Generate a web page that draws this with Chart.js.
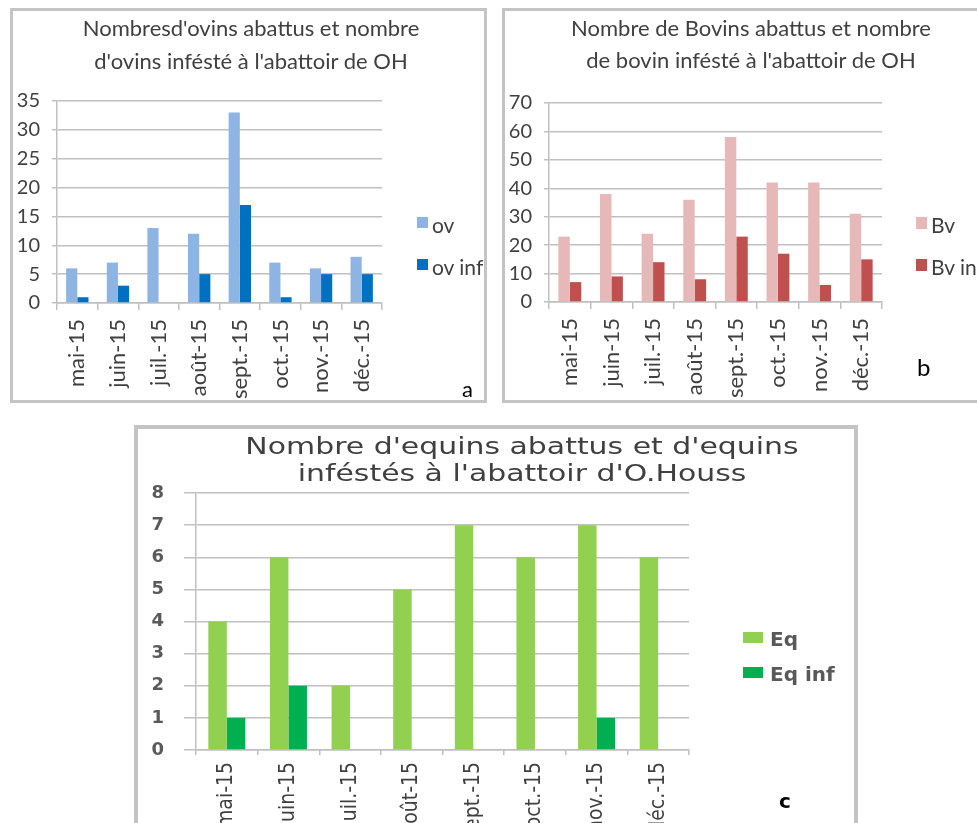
<!DOCTYPE html>
<html>
<head>
<meta charset="utf-8">
<script src="https://cdn.jsdelivr.net/npm/chart.js@4.4.1/dist/chart.umd.min.js"></script>
<style>
  body { margin: 0; width: 977px; height: 823px; overflow: hidden; background: #fff; position: relative; }
  .panel { position: absolute; box-sizing: border-box; border: 3px solid #c4c4c4; background: #fff; }
  .panel canvas { position: absolute; left: 0; top: 0; }
  .ttl { position: absolute; white-space: nowrap; line-height: 1; color: #404040; transform-origin: center; }
  .leg { position: absolute; white-space: nowrap; line-height: 1; }
  .leg i { position: absolute; left: 0; }
  .leg span { position: absolute; }
  .tag { position: absolute; line-height: 1; color: #000; }
</style>
</head>
<body>

<div class="panel" id="pa" style="left:10px;top:8px;width:477px;height:395px;">
  <canvas id="ca" width="471" height="389"></canvas>
  <div class="ttl" style="left:238px;top:3px;font:22px Lato, sans-serif;transform:translateX(-50%);">Nombresd'ovins abattus et nombre</div>
  <div class="ttl" style="left:238px;top:36px;font:22px Lato, sans-serif;transform:translateX(-50%);">d'ovins infésté à l'abattoir de OH</div>
  <div class="tag" style="left:449px;top:364px;font:22px Lato, sans-serif;">a</div>
</div>

<div class="panel" id="pb" style="left:502px;top:8px;width:480px;height:395px;">
  <canvas id="cb" width="474" height="389"></canvas>
  <div class="ttl" style="left:246px;top:3px;font:22px Lato, sans-serif;transform:translateX(-50%);">Nombre de Bovins abattus et nombre</div>
  <div class="ttl" style="left:246px;top:35px;font:22px Lato, sans-serif;transform:translateX(-50%);">de bovin infésté à l'abattoir de OH</div>
  <div class="tag" style="left:412px;top:341px;font:24px Lato, sans-serif;">b</div>
</div>

<div class="panel" id="pc" style="left:134px;top:425px;width:724px;height:420px;border-width:4px;">
  <canvas id="cc" width="716" height="412"></canvas>
  <div class="ttl" style="left:384px;top:4px;font:23px 'DejaVu Sans', sans-serif;transform:translateX(-50%) scaleX(1.3);">Nombre d'equins abattus et d'equins</div>
  <div class="ttl" style="left:384px;top:31px;font:23px 'DejaVu Sans', sans-serif;transform:translateX(-50%) scaleX(1.3);">inféstés à l'abattoir d'O.Houss</div>
  <div class="tag" style="left:641px;top:360px;font:bold 20px 'DejaVu Sans', sans-serif;">c</div>
</div>

<script>
// mois communs aux trois graphiques
const months = ['mai-15', 'juin-15', 'juil.-15', 'août-15', 'sept.-15', 'oct.-15', 'nov.-15', 'déc.-15'];

// a : ovins
const ov = [6, 7, 13, 12, 33, 7, 6, 8];
const ovInf = [1, 3, 0, 5, 17, 1, 5, 5];
const ovTicks = [0, 5, 10, 15, 20, 25, 30, 35];

// b : bovins
const bv = [23, 38, 24, 36, 58, 42, 42, 31];
const bvInf = [7, 9, 14, 8, 23, 17, 6, 15];
const bvTicks = [0, 10, 20, 30, 40, 50, 60, 70];

// c : equins
const eq = [4, 6, 2, 5, 7, 6, 7, 6];
const eqInf = [1, 2, 0, 0, 0, 0, 1, 0];
const eqTicks = [0, 1, 2, 3, 4, 5, 6, 7, 8];

const gridColor = '#c0c0c0';

function panel(canvasId, panelId, o) {
  const datasets = o.series.map(s => ({
    label: s.label,
    data: s.data,
    backgroundColor: s.color,
    borderWidth: 0,
    barPercentage: 1,
    categoryPercentage: o.catPct
  }));

  new Chart(document.getElementById(canvasId), {
    type: 'bar',
    data: { labels: months, datasets: datasets },
    options: {
      responsive: false,
      animation: false,
      devicePixelRatio: 1,
      layout: { padding: { left: 0, top: o.top, right: o.right, bottom: 0 } },
      plugins: { legend: { display: false }, tooltip: { enabled: false } },
      scales: {
        x: {
          grid: { drawOnChartArea: false, drawTicks: true, tickLength: o.xTick, color: gridColor, lineWidth: 1.5, offset: true },
          border: { color: gridColor, width: 1.5 },
          ticks: { minRotation: 90, maxRotation: 90, autoSkip: false, padding: o.xPad, color: o.xColor, font: o.xFont },
          afterFit: s => { s.height = o.xHeight; }
        },
        y: {
          min: 0,
          max: o.ticks[o.ticks.length - 1],
          afterBuildTicks: s => { s.ticks = o.ticks.map(v => ({ value: v })); },
          grid: { color: gridColor, lineWidth: 1.5, tickLength: o.yTick },
          border: { color: gridColor, width: 1.5 },
          ticks: { padding: o.yPad, color: o.yColor, font: o.yFont },
          afterFit: s => { s.width = o.yWidth; }
        }
      }
    }
  });

  // légende à droite, construite depuis les séries
  const host = document.getElementById(panelId);
  o.series.forEach((s, i) => {
    const row = document.createElement('div');
    row.className = 'leg';
    row.style.left = o.leg.x + 'px';
    row.style.top = o.leg.y[i] + 'px';
    row.style.font = o.leg.font;
    row.style.color = o.leg.color;
    const sw = document.createElement('i');
    sw.style.width = o.leg.w + 'px';
    sw.style.height = o.leg.h + 'px';
    sw.style.top = '0px';
    sw.style.background = s.color;
    const tx = document.createElement('span');
    tx.textContent = s.label;
    tx.style.left = o.leg.tx + 'px';
    tx.style.top = o.leg.ty + 'px';
    row.appendChild(sw);
    row.appendChild(tx);
    host.appendChild(row);
  });
}

panel('ca', 'pa', {
  series: [
    { label: 'ov', data: ov, color: '#8db4e2' },
    { label: 'ov inf', data: ovInf, color: '#0070c0' }
  ],
  ticks: ovTicks,
  catPct: 0.55,
  top: 90, right: 102, yWidth: 44, xHeight: 97,
  xTick: 7, xPad: 9, yTick: 5, yPad: 12,
  xFont: { family: 'Lato, sans-serif', size: 22 },
  yFont: { family: 'Lato, sans-serif', size: 20 },
  xColor: '#404040', yColor: '#404040',
  leg: { x: 404, y: [206, 248], w: 11, h: 11, tx: 15, ty: -5, font: '21px Lato, sans-serif', color: '#404040' }
});

panel('cb', 'pb', {
  series: [
    { label: 'Bv', data: bv, color: '#e6b9b8' },
    { label: 'Bv inf', data: bvInf, color: '#c0504d' }
  ],
  ticks: bvTicks,
  catPct: 0.55,
  top: 92, right: 97, yWidth: 44, xHeight: 98,
  xTick: 7, xPad: 9, yTick: 5, yPad: 12,
  xFont: { family: 'Lato, sans-serif', size: 22 },
  yFont: { family: 'Lato, sans-serif', size: 20 },
  xColor: '#404040', yColor: '#404040',
  leg: { x: 411, y: [206, 248], w: 11, h: 12, tx: 15, ty: -5, font: '21px Lato, sans-serif', color: '#404040' }
});

panel('cc', 'pc', {
  series: [
    { label: 'Eq', data: eq, color: '#92d050' },
    { label: 'Eq inf', data: eqInf, color: '#00b050' }
  ],
  ticks: eqTicks,
  catPct: 0.6,
  top: 64, right: 165, yWidth: 58, xHeight: 91,
  xTick: 5, xPad: 7, yTick: 12, yPad: 20,
  xFont: { family: "'Liberation Sans Narrow', 'DejaVu Sans Condensed', Lato, sans-serif", size: 21 },
  yFont: { family: "'DejaVu Sans', sans-serif", size: 18, weight: 'bold' },
  xColor: '#404040', yColor: '#5a5a5a',
  leg: { x: 605, y: [203, 238], w: 20, h: 11, tx: 27, ty: -5, font: "bold 20px 'DejaVu Sans', sans-serif", color: '#595959' }
});
</script>
</body>
</html>
